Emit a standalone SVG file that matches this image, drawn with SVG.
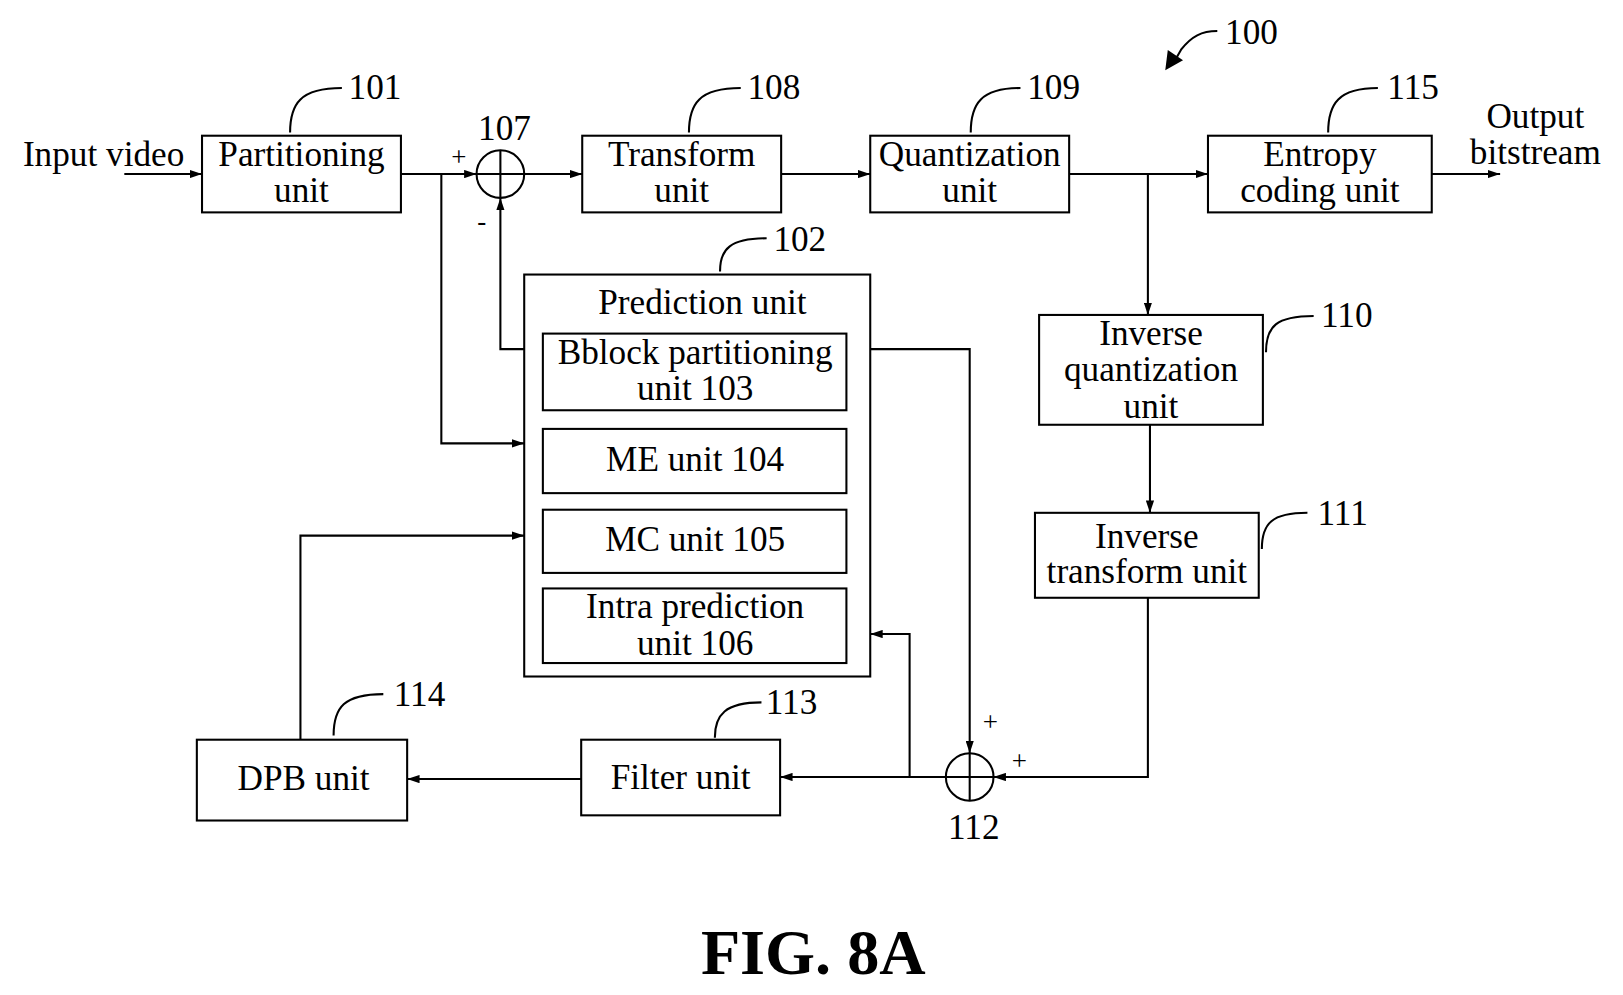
<svg xmlns="http://www.w3.org/2000/svg" width="1623" height="995" viewBox="0 0 1623 995">
<style>
rect,circle{fill:#fff;stroke:#000;stroke-width:2}
path{fill:none;stroke:#000;stroke-width:2}
text{font-family:"Liberation Serif",serif;font-size:34px;text-anchor:middle;fill:#000}
</style>
<defs><marker id="a" markerWidth="12" markerHeight="8" refX="12" refY="4" orient="auto" markerUnits="userSpaceOnUse"><path d="M0,0 L12,4 L0,8 Z" style="fill:#000;stroke:none"/></marker></defs>
<rect width="1623" height="995" style="stroke:none"/>
<g transform="scale(1.036)">
<g id="connectors">
<path d="M120,168H195" marker-end="url(#a)"/>
<path d="M387,168H460" marker-end="url(#a)"/>
<path d="M426,168V428H506" marker-end="url(#a)"/>
<path d="M506,168H562" marker-end="url(#a)"/>
<path d="M506,337H483V191" marker-end="url(#a)"/>
<path d="M754,168H840" marker-end="url(#a)"/>
<path d="M1032,168H1166" marker-end="url(#a)"/>
<path d="M1108,168V304" marker-end="url(#a)"/>
<path d="M1382,168H1448" marker-end="url(#a)"/>
<path d="M1110,410V495" marker-end="url(#a)"/>
<path d="M1108,577V750H959" marker-end="url(#a)"/>
<path d="M840,337H936V727" marker-end="url(#a)"/>
<path d="M913,750H753" marker-end="url(#a)"/>
<path d="M878,750V612H840" marker-end="url(#a)"/>
<path d="M561,752H393" marker-end="url(#a)"/>
<path d="M290,714V517H506" marker-end="url(#a)"/>
<path d="M280,128C280,100 290,85 330,85"/>
<path d="M665,128C665,100 675,85 715,85"/>
<path d="M937,128C937,100 947,85 985,85"/>
<path d="M1282,128C1282,100 1292,85 1330,85"/>
<path d="M695,262C695,240 705,230 740,230"/>
<path d="M1222,340C1222,315 1232,305 1268,305"/>
<path d="M1218,530C1218,505 1228,495 1262,495"/>
<path d="M690,712C690,690 700,678 735,678"/>
<path d="M322,710C322,683 332,670 370,670"/>
<path d="M1132,62L1140,48C1150,35 1160,30 1175,30"/>
<path d="M1126,66L1128,50L1140,58Z" style="fill:#000"/>
</g>
<g id="sum107"><circle cx="483" cy="168" r="23"/><path d="M460,168H506M483,145V191"/></g>
<g id="sum112"><circle cx="936" cy="750" r="23"/><path d="M913,750H959M936,727V773"/></g>
<g id="n101"><rect x="195" y="131" width="192" height="74"/><text x="291" y="160">Partitioning</text><text x="291" y="195">unit</text></g>
<g id="n108"><rect x="562" y="131" width="192" height="74"/><text x="658" y="160">Transform</text><text x="658" y="195">unit</text></g>
<g id="n109"><rect x="840" y="131" width="192" height="74"/><text x="936" y="160">Quantization</text><text x="936" y="195">unit</text></g>
<g id="n115"><rect x="1166" y="131" width="216" height="74"/><text x="1274" y="160">Entropy</text><text x="1274" y="195">coding unit</text></g>
<g id="n102"><rect x="506" y="265" width="334" height="388"/><text x="678" y="303">Prediction unit</text>
<rect x="524" y="322" width="293" height="74"/><text x="671" y="351">Bblock partitioning</text><text x="671" y="386">unit 103</text>
<rect x="524" y="414" width="293" height="62"/><text x="671" y="455">ME unit 104</text>
<rect x="524" y="492" width="293" height="61"/><text x="671" y="532">MC unit 105</text>
<rect x="524" y="568" width="293" height="72"/><text x="671" y="597">Intra prediction</text><text x="671" y="632">unit 106</text></g>
<g id="n110"><rect x="1003" y="304" width="216" height="106"/><text x="1111" y="333">Inverse</text><text x="1111" y="368">quantization</text><text x="1111" y="403">unit</text></g>
<g id="n111"><rect x="999" y="495" width="216" height="82"/><text x="1107" y="529">Inverse</text><text x="1107" y="563">transform unit</text></g>
<g id="n113"><rect x="561" y="714" width="192" height="73"/><text x="657" y="762">Filter unit</text></g>
<g id="n114"><rect x="190" y="714" width="203" height="78"/><text x="293" y="763">DPB unit</text></g>
<g id="labels">
<text x="100" y="160">Input video</text>
<text x="1482" y="124">Output</text><text x="1482" y="158">bitstream</text>
<text x="362" y="96">101</text><text x="487" y="135">107</text><text x="747" y="96">108</text><text x="1017" y="96">109</text><text x="1364" y="96">115</text>
<text x="772" y="242">102</text><text x="1300" y="316">110</text><text x="1296" y="507">111</text><text x="764" y="689">113</text><text x="405" y="681">114</text><text x="940" y="810">112</text><text x="1208" y="42">100</text>
<text x="443" y="160" style="font-size:26px">+</text><text x="465" y="222" style="font-size:26px">-</text>
<text x="956" y="706" style="font-size:26px">+</text><text x="984" y="743" style="font-size:26px">+</text>
<text x="785" y="940" style="font-size:62px;font-weight:bold">FIG. 8A</text>
</g>
</g>
</svg>
